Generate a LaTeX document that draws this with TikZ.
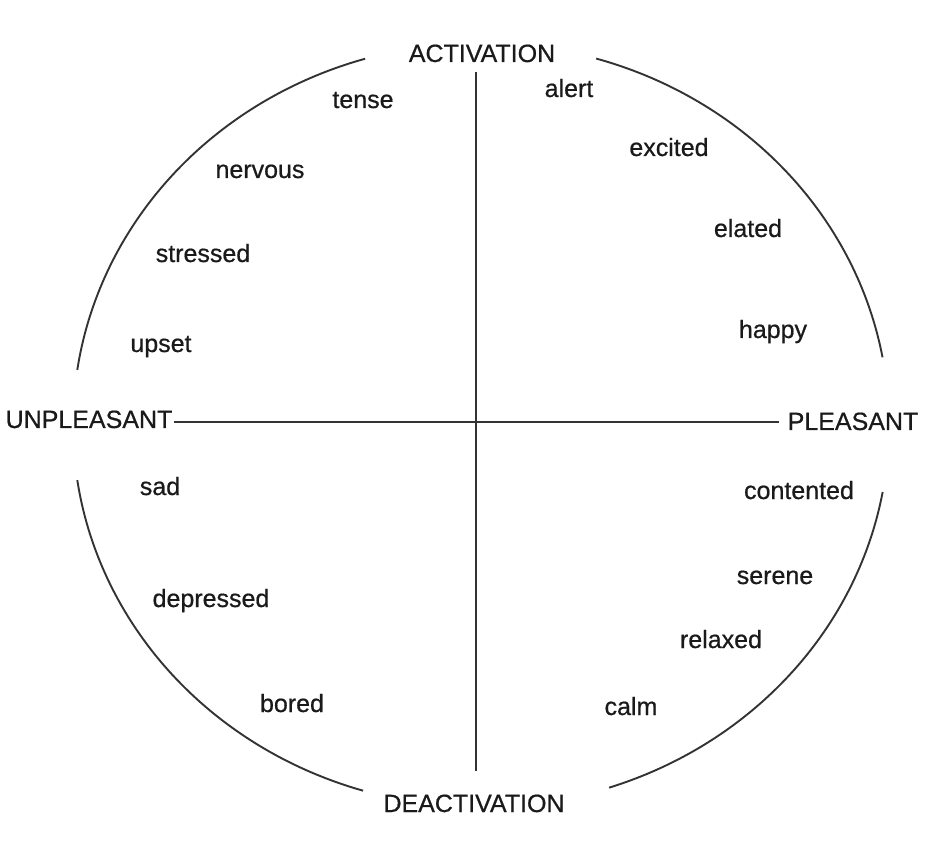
\documentclass[tikz,border=0pt]{standalone}
\usepackage{fontspec}
\setmainfont{Liberation Sans}[FakeBold=0.6]
\definecolor{ink}{HTML}{1A1A1A}
\definecolor{linec}{HTML}{333333}
\begin{document}
\begin{tikzpicture}[x=1pt,y=-1pt,
  word/.style={anchor=base,inner sep=0pt,text=ink,font=\fontsize{25}{28}\selectfont},
  rim/.style={draw=linec,line width=1.9pt},
  axis/.style={draw=linec,line width=2.6pt}]
\useasboundingbox[fill=white] (0,0) rectangle (946,850);
% axis labels
\node[word] (act) at (482,62) {ACTIVATION};
\node[word] (deact) at (474,812) {DEACTIVATION};
\node[word] (unpl) at (89,428) {UNPLEASANT};
\node[word] (pl) at (853,430) {PLEASANT};
% words
\node[word] (tense) at (363,108) {tense};
\node[word] (nervous) at (260,178) {nervous};
\node[word] (stressed) at (203,262) {stressed};
\node[word] (upset) at (161,352) {upset};
\node[word] (alert) at (569,97) {alert};
\node[word] (excited) at (669,156) {excited};
\node[word] (elated) at (748,237) {elated};
\node[word] (happy) at (773,338) {happy};
\node[word] (sad) at (160,495) {sad};
\node[word] (depressed) at (211,607) {depressed};
\node[word] (bored) at (292,712) {bored};
\node[word] (contented) at (799,499) {contented};
\node[word] (serene) at (775,584) {serene};
\node[word] (relaxed) at (721,648) {relaxed};
\node[word] (calm) at (631,715) {calm};
% axes
\coordinate (vtop) at (476,72);
\coordinate (vbot) at (476,771);
\coordinate (hleft) at (174,422);
\coordinate (hright) at (779,422);
\draw[axis] (vtop) -- (vbot);
\draw[axis] (hleft) -- (hright);
% ellipse arcs
\draw[rim] plot[domain=188.3:253.5,samples=60,smooth] ({481+408*cos(\x)},{425+382*sin(\x)});
\draw[rim] plot[domain=286.4:349.8,samples=60,smooth] ({481+408*cos(\x)},{425+382*sin(\x)});
\draw[rim] plot[domain=10.1:71.7,samples=60,smooth] ({481+408*cos(\x)},{425+382*sin(\x)});
\draw[rim] plot[domain=106.8:171.7,samples=60,smooth] ({481+408*cos(\x)},{425+382*sin(\x)});
\end{tikzpicture}
\end{document}
